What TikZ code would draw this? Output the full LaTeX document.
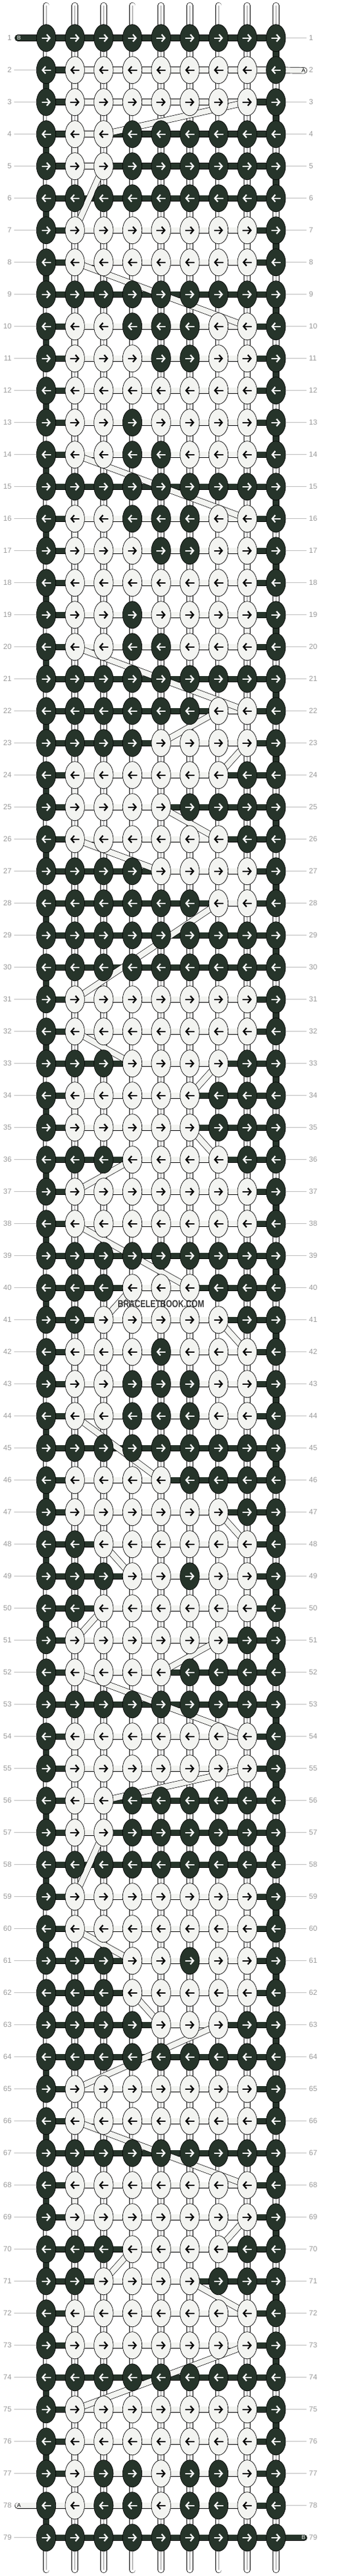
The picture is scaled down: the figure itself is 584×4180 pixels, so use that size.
\documentclass[tikz,border=0pt]{standalone}
\usepackage{fontspec}
\setmainfont{Liberation Sans}
\usepackage{xstring}
\usetikzlibrary{shapes.geometric,arrows.meta}
\definecolor{knotdark}{HTML}{26342A}
\definecolor{knotlight}{HTML}{F3F4F1}
\definecolor{rowgrey}{HTML}{9A9A9A}
\definecolor{leadgrey}{HTML}{BDBDBD}
\pgfdeclarelayer{strings}
\pgfdeclarelayer{carried}
\pgfsetlayers{strings,carried,main}
\tikzset{>=latex}

\begin{document}
\begin{tikzpicture}[x=1pt,y=-1pt,
  knot/.style={ellipse,draw,line width=.7pt,minimum width=31.4pt,minimum height=44pt,inner sep=0pt},
  s1/.style={knot,fill=knotdark},
  s0/.style={knot,fill=knotlight},
  knotarrow/.style={line width=2.3pt,-{Straight Barb[length=5pt,width=11.5pt]}},
  a1/.style={knotarrow,white},
  a0/.style={knotarrow,black},
  thread/.style={draw=black,line width=.7pt,double distance=9pt},
  t1/.style={thread,double=knotdark},
  t0/.style={thread,double=knotlight},
  base/.style={thread,double=white},
  basemid/.style={draw=black!45,line width=.5pt},
  rownum/.style={text=rowgrey,font=\fontsize{12}{12}\selectfont,inner xsep=4pt,inner ysep=0pt},
  lead/.style={draw=leadgrey,line width=.8pt},
  endlabel/.style={font=\fontsize{9}{9}\selectfont,inner sep=0pt}]
\useasboundingbox (0,0) rectangle (584,4180);

% knots row by row: colours (1 = dark), then the span of the light string
\foreach \r/\pat/\lo/\hi in {
  1/111111111/0/0, 2/100000001/2/10, 3/100000001/2/8, 4/100111111/2/3,
  5/100111111/2/3, 6/111111111/0/0, 7/100000001/2/8, 8/100000001/2/8,
  9/111111111/0/0, 10/100111001/2/8, 11/100011001/2/8, 12/100000001/2/8,
  13/100100001/2/8, 14/100110001/2/8, 15/111111111/0/0, 16/100111001/2/8,
  17/100011001/2/8, 18/100000001/2/8, 19/100100001/2/8, 20/100110001/2/8,
  21/111111111/0/0, 22/111111001/7/8, 23/111100001/5/8, 24/100000011/2/7,
  25/100001111/2/5, 26/100000011/2/7, 27/111100001/5/8, 28/111111001/7/8,
  29/111111111/0/0, 30/111111111/0/0, 31/100000001/2/8, 32/100000001/2/8,
  33/111000011/4/7, 34/100000111/2/6, 35/100000111/2/6, 36/111000011/4/7,
  37/100000001/2/8, 38/100000001/2/8, 39/111111111/0/0, 40/111000111/4/6,
  41/110000011/3/7, 42/100010001/2/8, 43/100111001/2/8, 44/100111001/2/8,
  45/111111111/0/0, 46/100001111/2/5, 47/100000011/2/7, 48/110000001/3/8,
  49/111001001/4/8, 50/110000001/3/8, 51/100000011/2/7, 52/100001111/2/5,
  53/111111111/0/0, 54/100000001/2/8, 55/100000001/2/8, 56/100111111/2/3,
  57/100111111/2/3, 58/111111111/0/0, 59/100000001/2/8, 60/100000001/2/8,
  61/111001001/4/8, 62/111000001/4/8, 63/111100011/5/7, 64/111111111/0/0,
  65/100000001/2/8, 66/100000001/2/8, 67/111111111/0/0, 68/100000001/2/8,
  69/100000001/2/8, 70/111000011/4/7, 71/110000111/3/6, 72/100000001/2/8,
  73/100000001/2/8, 74/111111111/0/0, 75/100000001/2/8, 76/100000001/2/8,
  77/101101101/2/8, 78/101101101/0/8, 79/111111111/0/0}{
  \pgfmathsetmacro\y{61.7+52*(\r-1)}
  \ifodd\r \def\sx{-7.5}\def\ex{7.5}\else\def\sx{7.5}\def\ex{-7.5}\fi
  \foreach \c in {1,...,9}{
    \StrChar{\pat}{\c}[\ch]
    \node[s\ch] (k-\r-\c) at ({75+46.667*(\c-1)},\y) {};
    \draw[a\ch] ([xshift=\sx pt]k-\r-\c.center) -- ([xshift=\ex pt]k-\r-\c.center);
  }
  \begin{pgfonlayer}{strings}
  \foreach \c [count=\d from 2] in {1,...,8}{
    \ifnum\c<\lo \def\tc{t1}\else\ifnum\d>\hi \def\tc{t1}\else\def\tc{t0}\fi\fi
    \draw[\tc] (k-\r-\c.center) -- (k-\r-\d.center);
  }
  \end{pgfonlayer}
  \node[rownum,anchor=east] (l-\r) at (23,\y) {\r};
  \node[rownum,anchor=west] (rr-\r) at (498,\y) {\r};
  \ifnum\r=1 \else\ifnum\r=78 \else \draw[lead] (l-\r.east) -- (k-\r-1.west);\fi\fi
  \ifnum\r=2 \else\ifnum\r=79 \else \draw[lead] (k-\r-9.east) -- (rr-\r.west);\fi\fi
}

% vertical base strings
\begin{pgfonlayer}{strings}
\foreach \c in {1,...,9}{
  \coordinate (top-\c) at ({75+46.667*(\c-1)},9);
  \coordinate (bot-\c) at ({75+46.667*(\c-1)},4170);
  \draw[base,line cap=round] (top-\c) -- (k-1-\c.center);
  \draw[basemid] (top-\c) -- (k-1-\c.center);
  \draw[base,line cap=round] (k-79-\c.center) -- (bot-\c);
  \draw[basemid] (k-79-\c.center) -- (bot-\c);
  \foreach \r [count=\s from 2] in {1,...,78}{
    \draw[base] (k-\r-\c.center) -- (k-\s-\c.center);
    \draw[basemid] (k-\r-\c.center) -- (k-\s-\c.center);
  }
}
% dark string turning at the edges
\foreach \r [count=\s from 2] in {1,...,78}{
  \ifodd\r \def\c{9}\else\def\c{1}\fi
  \draw[t1] (k-\r-\c.center) -- (k-\s-\c.center);
}
% light string going straight down
\foreach \r/\c in {2/2,4/2,7/8,10/2,11/8,12/2,13/8,16/2,17/8,18/2,19/8,24/2,27/8,
  31/8,34/2,37/8,42/2,43/8,46/2,49/8,54/2,56/2,59/8,61/8,65/8,68/2,72/2,75/8,76/2,77/8}{
  \pgfmathtruncatemacro\s{\r+1}
  \draw[t0] (k-\r-\c.center) -- (k-\s-\c.center);
}
% loose ends
\coordinate (endB) at (29,61.7);
\coordinate (endA) at (494,114.3);
\coordinate (endA2) at (29,4065.7);
\coordinate (endB2) at (494,4117.7);
\draw[t1,line cap=round] (endB) -- (k-1-1.center);
\draw[t0,line cap=round] (k-2-9.center) -- (endA);
\draw[t0,line cap=round] (endA2) -- (k-78-1.center);
\draw[t1,line cap=round] (k-79-9.center) -- (endB2);
\end{pgfonlayer}
\node[endlabel,text=white] (labB) at (31,61.7) {B};
\node[endlabel] (labA) at (493,114.3) {A};
\node[endlabel] (labA2) at (31,4065.7) {A};
\node[endlabel,text=white] (labB2) at (493,4117.7) {B};

% light string carried over rows
\begin{pgfonlayer}{carried}
\foreach \ra/\ca/\rb/\cb in {3/8/4/3, 5/3/7/2, 8/2/10/8, 14/2/16/8, 20/2/22/8,
  22/7/23/5, 23/8/24/7, 25/5/26/7, 26/2/27/5, 28/7/31/2, 32/2/33/4, 33/7/34/6,
  35/6/36/7, 36/4/37/2, 38/2/40/6, 40/4/41/3, 41/7/42/8, 44/2/46/5, 47/7/48/8,
  48/3/49/4, 50/3/51/2, 51/7/52/5, 52/2/54/8, 55/8/56/3, 57/3/59/2, 60/2/61/4,
  62/4/63/5, 63/7/65/2, 66/2/68/8, 69/8/70/7, 70/4/71/3, 71/6/72/8, 73/8/75/2}
  \draw[t0] (k-\ra-\ca.center) -- (k-\rb-\cb.center);
\end{pgfonlayer}

\node[text=black!78,inner sep=0pt] (mark) at (261.7,2116)
  {\scalebox{0.78}[1]{\bfseries\fontsize{16.3}{16}\selectfont BRACELETBOOK.COM}};
\end{tikzpicture}
\end{document}
